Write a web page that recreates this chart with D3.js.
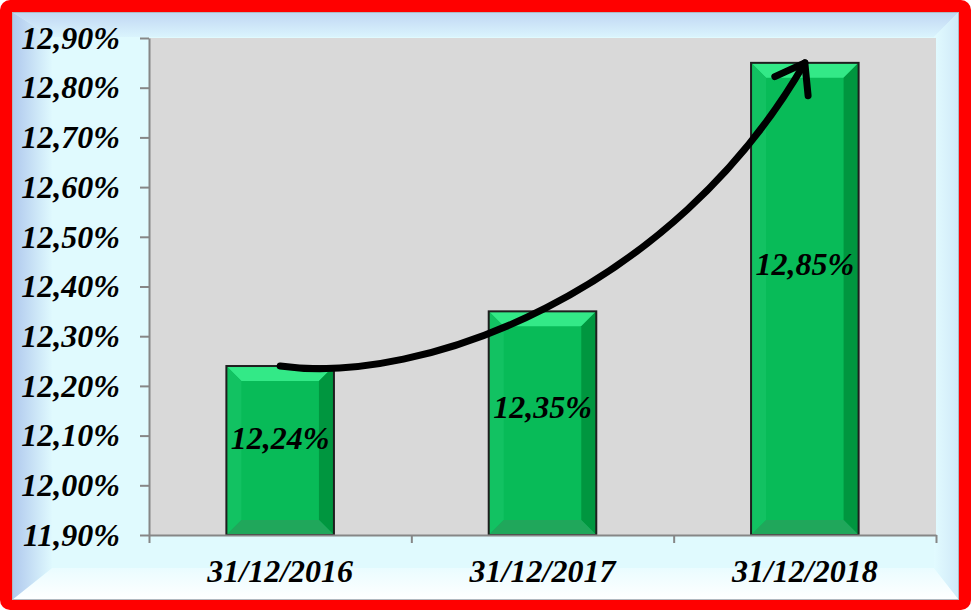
<!DOCTYPE html>
<html>
<head>
<meta charset="utf-8">
<script src="https://cdn.jsdelivr.net/npm/d3@7"></script>
<style>
  html, body { margin: 0; padding: 0; background: #fff; }
  svg { display: block; }
  text { font-family: "Liberation Serif", "Times New Roman", serif; font-weight: bold; font-style: italic; }
</style>
</head>
<body>
<svg id="chart"></svg>
<script>
// chart data
const categories = ['31/12/2016', '31/12/2017', '31/12/2018'];
const values = [12.24, 12.35, 12.85];
const yTicks = [11.9, 12.0, 12.1, 12.2, 12.3, 12.4, 12.5, 12.6, 12.7, 12.8, 12.9];
// growth arrow, in [category index, value] units
const arrowPoints = [[0, 12.24], [0.54, 12.20], [1.5, 12.39], [2, 12.85]];

const W = 971, H = 610;
const frame = { x0: 12, y0: 12, x1: 959, y1: 600 };
const plot = { left: 149, right: 936, top: 38, bottom: 535 };
const FS = '32px';

const svg = d3.select('#chart').attr('width', W).attr('height', H);
const defs = svg.append('defs');

// red outer border
svg.append('rect')
  .attr('width', W).attr('height', H)
  .attr('rx', 10)
  .attr('fill', '#ff0000');

// bevelled light frame
function grad(id, x1, y1, x2, y2, c1, c2) {
  const g = defs.append('linearGradient').attr('id', id)
    .attr('x1', x1).attr('y1', y1).attr('x2', x2).attr('y2', y2);
  g.append('stop').attr('offset', '0%').attr('stop-color', c1);
  g.append('stop').attr('offset', '100%').attr('stop-color', c2);
}
grad('bvLeft', 0, 0, 1, 0, '#afc8ed', '#dff9fe');
grad('bvTop', 0, 0, 0, 1, '#c0d6f3', '#daf4fd');
grad('bvRight', 1, 0, 0, 0, '#cfe9f8', '#e2fbff');
grad('bvBottom', 0, 1, 0, 0, '#ffffff', '#eafcff');

const bl = 40, bt = 25, br = 25, bb = 32;
const f = frame;
svg.append('rect')
  .attr('x', f.x0).attr('y', f.y0)
  .attr('width', f.x1 - f.x0).attr('height', f.y1 - f.y0)
  .attr('fill', '#e0fafe');
svg.append('polygon').attr('fill', 'url(#bvTop)')
  .attr('points', [[f.x0, f.y0], [f.x1, f.y0], [f.x1 - br, f.y0 + bt], [f.x0 + bl, f.y0 + bt]].join(' '));
svg.append('polygon').attr('fill', 'url(#bvBottom)')
  .attr('points', [[f.x0, f.y1], [f.x1, f.y1], [f.x1 - br, f.y1 - bb], [f.x0 + bl, f.y1 - bb]].join(' '));
svg.append('polygon').attr('fill', 'url(#bvLeft)')
  .attr('points', [[f.x0, f.y0], [f.x0 + bl, f.y0 + bt], [f.x0 + bl, f.y1 - bb], [f.x0, f.y1]].join(' '));
svg.append('polygon').attr('fill', 'url(#bvRight)')
  .attr('points', [[f.x1, f.y0], [f.x1 - br, f.y0 + bt], [f.x1 - br, f.y1 - bb], [f.x1, f.y1]].join(' '));
svg.append('rect')
  .attr('x', f.x0 + 0.5).attr('y', f.y0 + 0.5)
  .attr('width', f.x1 - f.x0 - 1).attr('height', f.y1 - f.y0 - 1)
  .attr('fill', 'none').attr('stroke', '#b0b8c0').attr('stroke-width', 1);

// scales
const x = d3.scaleBand().domain(categories).range([plot.left, plot.right]).padding(0);
const xIdx = d3.scaleLinear().domain([0, categories.length]).range([plot.left, plot.right]);
const y = d3.scaleLinear().domain([11.9, 12.9]).range([plot.bottom, plot.top]);

const locale = d3.formatLocale({ decimal: ',', thousands: '.', grouping: [3], currency: ['', '€'] });
const fmtPct = v => locale.format('.2f')(v) + '%';

// plot area
svg.append('rect')
  .attr('x', plot.left).attr('y', plot.top)
  .attr('width', plot.right - plot.left).attr('height', plot.bottom - plot.top)
  .attr('fill', '#d9d9d9');

// bars with bevel
const barW = x.bandwidth() * 0.41;
const bev = 15;
const bars = svg.append('g').selectAll('g.bar')
  .data(values)
  .join('g')
  .attr('class', 'bar');

bars.each(function(v, i) {
  const g = d3.select(this);
  const cx = x(categories[i]) + x.bandwidth() / 2;
  const x0 = cx - barW / 2, x1 = cx + barW / 2;
  const y0 = y(v), y1 = y(11.9);
  g.append('rect').attr('x', x0).attr('y', y0)
    .attr('width', barW).attr('height', y1 - y0).attr('fill', '#08bb58');
  const faces = [
    { c: '#33e987', p: [[x0, y0], [x1, y0], [x1 - bev, y0 + bev], [x0 + bev, y0 + bev]] },
    { c: '#12c262', p: [[x0, y0], [x0 + bev, y0 + bev], [x0 + bev, y1 - bev], [x0, y1]] },
    { c: '#00963f', p: [[x1, y0], [x1 - bev, y0 + bev], [x1 - bev, y1 - bev], [x1, y1]] },
    { c: '#20a75b', p: [[x0, y1], [x0 + bev, y1 - bev], [x1 - bev, y1 - bev], [x1, y1]] }
  ];
  faces.forEach(fc => g.append('polygon').attr('points', fc.p.join(' ')).attr('fill', fc.c));
  g.append('rect').attr('x', x0).attr('y', y0)
    .attr('width', barW).attr('height', y1 - y0)
    .attr('fill', 'none').attr('stroke', '#1e1e1e').attr('stroke-width', 2);
});

// axes
const yAxis = svg.append('g')
  .attr('transform', `translate(${plot.left},0)`)
  .call(d3.axisLeft(y).tickValues(yTicks).tickFormat(fmtPct).tickSize(9).tickSizeOuter(0).tickPadding(20));
yAxis.select('.domain').attr('stroke', '#868686').attr('stroke-width', 2);
yAxis.selectAll('.tick line').attr('stroke', '#868686').attr('stroke-width', 2);
yAxis.selectAll('.tick text')
  .attr('fill', '#000')
  .style('font-size', FS)
  .style('font-family', '"Liberation Serif", serif')
  .style('font-weight', 'bold')
  .style('font-style', 'italic');

const xAxis = svg.append('g')
  .attr('transform', `translate(0,${plot.bottom})`)
  .call(d3.axisBottom(xIdx).tickValues(d3.range(categories.length + 1)).tickFormat('').tickSize(8).tickSizeOuter(0));
xAxis.select('.domain').attr('stroke', '#868686').attr('stroke-width', 2);
xAxis.selectAll('.tick line').attr('stroke', '#868686').attr('stroke-width', 2);

svg.append('g').selectAll('text')
  .data(categories)
  .join('text')
  .attr('x', d => x(d) + x.bandwidth() / 2)
  .attr('y', 582)
  .attr('text-anchor', 'middle')
  .style('font-size', FS)
  .text(d => d);

// value labels inside bars
svg.append('g').selectAll('text')
  .data(values)
  .join('text')
  .attr('x', (d, i) => x(categories[i]) + x.bandwidth() / 2)
  .attr('y', d => y(d) + 0.425 * (y(11.9) - y(d)))
  .attr('dy', '0.35em')
  .attr('text-anchor', 'middle')
  .style('font-size', FS)
  .text(d => fmtPct(d));

// growth arrow
const ax = i => xIdx(i + 0.5);
const pts = arrowPoints.map(([i, v]) => [ax(i), y(v)]);
const path = d3.path();
path.moveTo(pts[0][0], pts[0][1]);
path.bezierCurveTo(pts[1][0], pts[1][1], pts[2][0], pts[2][1], pts[3][0], pts[3][1]);
svg.append('path')
  .attr('d', path.toString())
  .attr('fill', 'none')
  .attr('stroke', '#000')
  .attr('stroke-width', 7)
  .attr('stroke-linecap', 'round');

// arrow head along the end tangent
const tip = pts[3];
const ang = Math.atan2(pts[3][1] - pts[2][1], pts[3][0] - pts[2][0]);
const hl = 33, spread = 0.62;
const head = [ang + Math.PI - spread, ang + Math.PI + spread]
  .map(a => [tip[0] + hl * Math.cos(a), tip[1] + hl * Math.sin(a)]);
svg.append('path')
  .attr('d', `M${head[0][0]},${head[0][1]}L${tip[0]},${tip[1]}L${head[1][0]},${head[1][1]}`)
  .attr('fill', 'none')
  .attr('stroke', '#000')
  .attr('stroke-width', 7)
  .attr('stroke-linecap', 'round')
  .attr('stroke-linejoin', 'round');
</script>
</body>
</html>
